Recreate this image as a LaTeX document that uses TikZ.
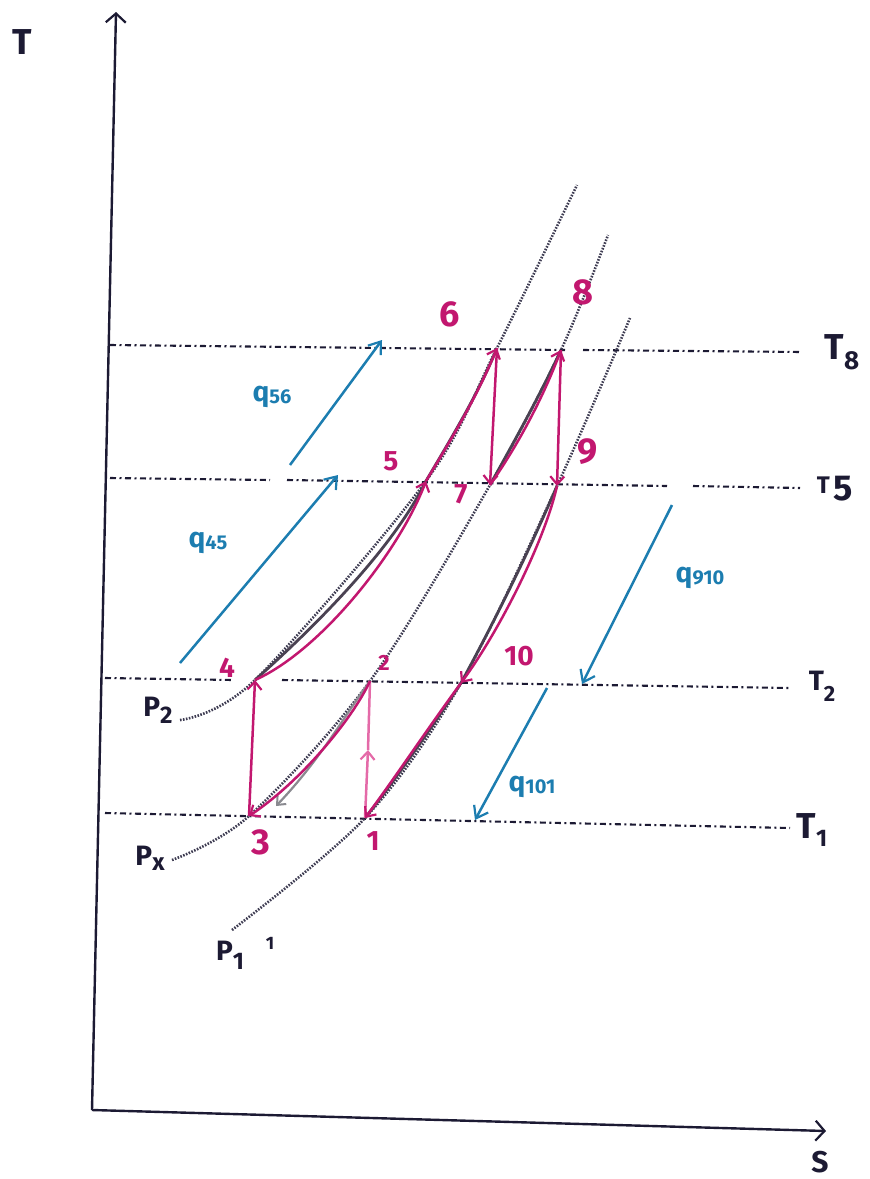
\documentclass[tikz,border=0pt]{standalone}
\usepackage{fontspec}
\setmainfont{Fira Sans}
\usetikzlibrary{arrows.meta}
\definecolor{mag}{HTML}{C2176F}
\definecolor{pinkl}{HTML}{E46AA8}
\definecolor{qblue}{HTML}{1C7DB0}
\definecolor{ink}{HTML}{1C1A33}
\definecolor{graphite}{HTML}{4A4252}
\definecolor{pencil}{HTML}{8A8A90}
\begin{document}
\begin{tikzpicture}[x=1pt,y=-1pt,
  axis/.style={ink, line width=2.4pt, -{Straight Barb[length=9pt,width=20pt,line width=2.2pt]}},
  iso/.style={ink, line width=2.1pt, dash pattern=on 6pt off 3.5pt on 2pt off 3.5pt},
  bar/.style={ink!85, line width=2.6pt, dash pattern=on 1.6pt off 1.4pt},
  solidbar/.style={graphite, line width=2.8pt},
  proc/.style={mag, line width=2.5pt},
  tip/.style={-{Straight Barb[length=8pt,width=14pt,line width=2.2pt]}},
  heat/.style={qblue, line width=2.5pt, -{Straight Barb[length=11pt,width=16pt,line width=2.2pt]}},
  ptS/.style={text=mag, font=\bfseries\fontsize{22}{22}\selectfont},
  ptM/.style={text=mag, font=\bfseries\fontsize{28}{28}\selectfont},
  ptL/.style={text=mag, font=\bfseries\fontsize{36}{36}\selectfont},
  lab/.style={text=ink, font=\bfseries\fontsize{36}{36}\selectfont},
  plab/.style={text=ink, font=\bfseries\fontsize{28}{28}\selectfont},
  ql/.style={text=qblue, font=\bfseries\fontsize{28}{28}\selectfont}
]
\useasboundingbox (0,0) rectangle (870,1179);

% ---------- axes ----------
\coordinate (O) at (92,1110);
\coordinate (Ttop) at (116,12);
\coordinate (Send) at (826,1131);
\draw[axis] (O) -- (Ttop);
\draw[axis] (O) -- (Send);
\node[lab] (Tl) at (22,42) {T};
\node[lab, font=\bfseries\fontsize{30}{30}\selectfont] (Sl) at (820,1162) {S};

% ---------- isotherms ----------
\coordinate (t8a) at (110,345);  \coordinate (t8g1) at (565,350);
\coordinate (t8g2) at (583,350); \coordinate (t8b) at (802,352);
\coordinate (t5a) at (110,478);  \coordinate (t5g1) at (270,480);
\coordinate (t5g2) at (287,480); \coordinate (t5g3) at (667,486);
\coordinate (t5g4) at (693,486); \coordinate (t5b) at (800,488);
\coordinate (t2a) at (105,678);  \coordinate (t2g1) at (233,680);
\coordinate (t2g2) at (282,680); \coordinate (t2b) at (790,688);
\coordinate (t1a) at (105,813);  \coordinate (t1b) at (790,828);
\draw[iso] (t8a) -- (t8g1);  \draw[iso] (t8g2) -- (t8b);
\draw[iso] (t5a) -- (t5g1);  \draw[iso] (t5g2) -- (t5g3); \draw[iso] (t5g4) -- (t5b);
\draw[iso] (t2a) -- (t2g1);  \draw[iso] (t2g2) -- (t2b);
\draw[iso] (t1a) -- (t1b);
\node[lab] (T8) at (842,352) {T\raisebox{-10pt}{\fontsize{26}{26}\selectfont 8}};
\node[lab] (T5) at (835,489) {\raisebox{7pt}{\fontsize{24}{24}\selectfont T}\kern4pt 5};
\node[lab] (T2) at (822,686) {\fontsize{28}{28}\selectfont T\raisebox{-11pt}{\fontsize{22}{22}\selectfont 2}};
\node[lab] (T1) at (812,830) {T\raisebox{-8pt}{\fontsize{24}{24}\selectfont 1}};

% ---------- state points ----------
\coordinate (c1) at (365,818);
\coordinate (c2) at (370,681);
\coordinate (c3) at (249,816);
\coordinate (c4) at (255,680);
\coordinate (c5) at (426,481);
\coordinate (c6) at (497,348);
\coordinate (c7) at (490,485);
\coordinate (c8) at (561,350);
\coordinate (c9) at (557,486);
\coordinate (c10) at (461,683);
\coordinate (m12) at (368,750);

% ---------- isobars ----------
\coordinate (p2s) at (180,720); \coordinate (p2e) at (577,185);
\coordinate (pxs) at (172,860); \coordinate (pxe) at (608,235);
\coordinate (p1s) at (232,930); \coordinate (p1e) at (630,318);
\draw[bar] plot[smooth, tension=0.55] coordinates {(p2s) (c4) (c5) (c6) (p2e)};
\draw[bar] plot[smooth, tension=0.55] coordinates {(pxs) (c3) (c2) (c7) (c8) (pxe)};
\draw[bar] plot[smooth, tension=0.55] coordinates {(p1s) (c1) (c10) (c9) (p1e)};
\node[plab] (P2) at (158,710) {P\raisebox{-7pt}{\fontsize{24}{24}\selectfont 2}};
\node[plab] (Px) at (150,858) {P\raisebox{-5pt}{\fontsize{24}{24}\selectfont x}};
\node[plab] (P1) at (230,955) {P\raisebox{-9pt}{\fontsize{24}{24}\selectfont 1}};
\node[text=ink, font=\bfseries\fontsize{18}{18}\selectfont] (one) at (270,943) {1};

% ---------- pencil traces along processes ----------
\draw[solidbar] (c4) .. controls (300,640) and (390,555) .. (c5);
\draw[solidbar] (c5) .. controls (455,432) and (480,390) .. (c6);
\draw[solidbar] (c7) .. controls (515,440) and (540,395) .. (c8);
\draw[solidbar] (c9) .. controls (525,560) and (495,620) .. (c10);
\draw[solidbar] (c10) .. controls (430,730) and (395,780) .. (c1);
\draw[pencil, line width=2.2pt, -{Straight Barb[length=7pt,width=12pt,line width=2pt]}]
  (c2) .. controls (345,715) and (320,760) .. (276,806);

% ---------- cycle processes ----------
\draw[pinkl, line width=2.5pt, tip] (c1) -- (m12);
\draw[pinkl, line width=2.5pt] (m12) -- (c2);
\draw[proc, tip] (c2) .. controls (352,720) and (300,782) .. (c3);
\draw[proc, tip] (c3) -- (c4);
\draw[proc, tip] (c4) .. controls (322,650) and (400,550) .. (c5);
\draw[proc, tip] (c5) .. controls (452,438) and (478,395) .. (c6);
\draw[proc, tip] (c6) -- (c7);
\draw[proc, tip] (c7) .. controls (518,445) and (543,398) .. (c8);
\draw[proc, tip] (c8) -- (c9);
\draw[proc, tip] (c9) .. controls (545,540) and (500,630) .. (c10);
\draw[proc, tip] (c10) .. controls (428,728) and (392,782) .. (c1);

\node[ptM] (L1) at (373,841) {1};
\node[ptS] (L2) at (384,663) {2};
\node[ptL] (L3) at (261,842) {3};
\node[ptM] (L4) at (227,668) {4};
\node[ptM] (L5) at (391,461) {5};
\node[ptL] (L6) at (450,314) {6};
\node[ptM] (L7) at (461,494) {7};
\node[ptL] (L8) at (583,292) {8};
\node[ptL] (L9) at (588,452) {9};
\node[ptM] (L10) at (519,656) {10};

% ---------- heat arrows ----------
\coordinate (q56a) at (290,465); \coordinate (q56b) at (382,340);
\coordinate (q45a) at (180,663); \coordinate (q45b) at (338,475);
\coordinate (q910a) at (672,505); \coordinate (q910b) at (582,684);
\coordinate (q101a) at (547,688); \coordinate (q101b) at (475,820);
\draw[heat] (q56a) -- (q56b);
\draw[heat] (q45a) -- (q45b);
\draw[heat] (q910a) -- (q910b);
\draw[heat] (q101a) -- (q101b);
\node[ql] (Q56) at (272,397) {q\raisebox{-2pt}{\fontsize{20}{20}\selectfont 56}};
\node[ql] (Q45) at (208,543) {q\raisebox{-2pt}{\fontsize{20}{20}\selectfont 45}};
\node[ql] (Q910) at (700,578) {q\raisebox{-2pt}{\fontsize{20}{20}\selectfont 910}};
\node[ql] (Q101) at (532,787) {q\raisebox{-2pt}{\fontsize{20}{20}\selectfont 101}};
\end{tikzpicture}
\end{document}
